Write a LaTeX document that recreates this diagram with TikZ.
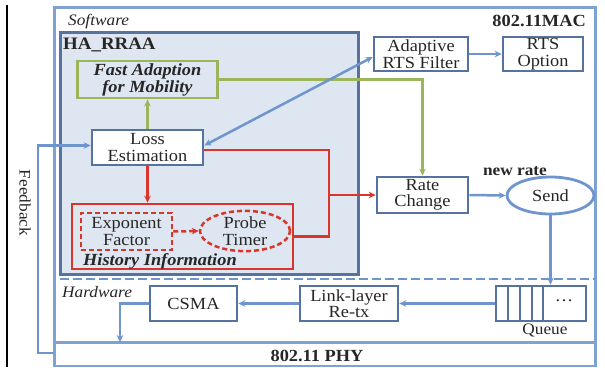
\documentclass[tikz,border=0pt]{standalone}
\usepackage{fontspec}
\setmainfont{Liberation Serif}[FakeStretch=1.08]
\usetikzlibrary{arrows.meta,shapes.geometric,calc}

\definecolor{frameblue}{HTML}{7FA2D3}
\definecolor{boxblue}{HTML}{56739F}
\definecolor{arrowblue}{HTML}{6F95CF}
\definecolor{hafill}{HTML}{DEE6F1}
\definecolor{redline}{HTML}{D9352B}
\definecolor{greenline}{HTML}{9BB65A}
\definecolor{inktext}{HTML}{262626}

\tikzset{
  txt/.style={font=\fontsize{17}{16.5}\selectfont, text=inktext, align=center, inner sep=0pt},
  bluebox/.style={txt, draw=boxblue, line width=2.6pt, fill=white, rectangle},
  greenbox/.style={txt, draw=greenline, line width=2.8pt, rectangle},
  redbox/.style={draw=redline, line width=2.5pt, rectangle, inner sep=0pt},
  reddash/.style={txt, draw=redline, line width=2.5pt, dash pattern=on 5pt off 3pt},
  tip/.style={-{Stealth[length=7pt,width=6.5pt]}},
  bluearrow/.style={tip, draw=arrowblue, line width=2.5pt},
  redarrow/.style={tip, draw=redline, line width=2.5pt},
  greenarrow/.style={tip, draw=greenline, line width=2.8pt},
  label/.style={font=\fontsize{17}{17}\selectfont, text=inktext, inner sep=0pt},
}

\begin{document}
\begin{tikzpicture}[x=1pt,y=-1pt]
\useasboundingbox (0,0) rectangle (605,367);

% left rule
\draw[black, line width=1.2pt] (7,5) -- (7,367);

% outer MAC/PHY frame
\draw[frameblue, line width=3pt] (54,367) -- (54,7) -- (595,7) -- (595,367);
\draw[frameblue, line width=3pt] (54,342) -- (595,342);
\draw[frameblue, line width=1.2pt] (54,366) -- (595,366);

% HA_RRAA region
\draw[draw=boxblue, fill=hafill, line width=3pt] (60,32) rectangle (358,274);

% software / hardware separator
\draw[arrowblue, line width=2.5pt, dash pattern=on 9pt off 4pt] (60,279) -- (595,279);

% text labels
\node[label, font=\fontsize{16}{16}\selectfont\itshape, anchor=west] (sw) at (68,22) {Software};
\node[label, font=\fontsize{17}{17}\selectfont\bfseries, anchor=east] (mac) at (586,21) {802.11MAC};
\node[label, font=\fontsize{17.5}{17}\selectfont\bfseries, anchor=west] (ha) at (63,45) {HA\_RRAA};
\node[label, font=\fontsize{16}{16}\selectfont\bfseries] (nr) at (515,171) {new rate};
\node[label, font=\fontsize{16}{16}\selectfont\itshape, anchor=west] (hw) at (62,292) {Hardware};
\node[label, font=\fontsize{17}{17}\selectfont\bfseries] (phy) at (317,356) {802.11 PHY};
\node[label, font=\fontsize{16}{16}\selectfont] (qlab) at (545,330) {Queue};
\node[label, font=\fontsize{16}{16}\selectfont, rotate=-90] (fbl) at (25,203) {Feedback};

% software blocks
\node[greenbox, font=\fontsize{17}{17}\selectfont\bfseries\itshape, minimum width=140pt, minimum height=37pt] (fast) at (147.5,79.5) {Fast Adaption\\for Mobility};
\node[bluebox, minimum width=111pt, minimum height=35pt] (loss) at (147.5,147.5) {Loss\\Estimation};
\node[bluebox, minimum width=94pt, minimum height=34pt] (arts) at (421,54) {Adaptive\\RTS Filter};
\node[bluebox, minimum width=80pt, minimum height=34pt] (rtso) at (543,54) {RTS\\Option};
\node[bluebox, minimum width=91pt, minimum height=36pt] (rate) at (422.5,195) {Rate\\Change};
\node[txt, ellipse, draw=arrowblue, line width=2.8pt, fill=white, minimum width=87pt, minimum height=37pt] (send) at (550.5,195.5) {Send};

% history information block
\node[redbox, minimum width=221pt, minimum height=65pt] (hist) at (182.5,236.5) {};
\node[label, font=\fontsize{17}{17}\selectfont\bfseries\itshape, anchor=west] (histl) at (83,261) {History Information};
\node[reddash, rectangle, minimum width=91pt, minimum height=37pt] (expo) at (126.5,231.5) {Exponent\\Factor};
\node[reddash, ellipse, minimum width=90pt, minimum height=36pt] (probe) at (245,231) {Probe\\Timer};

% hardware blocks
\node[bluebox, minimum width=87pt, minimum height=35pt] (csma) at (193.5,303.5) {CSMA};
\node[bluebox, minimum width=98pt, minimum height=35pt] (link) at (349,303.5) {Link-layer\\Re-tx};
\node[bluebox, minimum width=90pt, minimum height=35pt] (queue) at (541,303.5) {};
\foreach \cx in {508,520,532,543}
  \draw[boxblue, line width=2.6pt] (\cx,286) -- (\cx,321);
\node[txt] (qdots) at (564,301) {\dots};

% junction points
\coordinate (rj) at (329,195);
\coordinate (fbin) at (54,353);
\coordinate (phyin) at (120,342);

% connectors
\draw[greenarrow] (loss.north) -- (fast.south);
\draw[greenarrow] (fast.east) -| (rate.north);
\draw[bluearrow, {Stealth[length=7pt,width=6.5pt]}-{Stealth[length=7pt,width=6.5pt]}] ([yshift=2pt]loss.east) -- ([yshift=-3pt]arts.west);
\draw[bluearrow] (arts.east) -- (rtso.west);
\draw[redarrow] (loss.south) -- (loss.south |- hist.north);
\draw[redline, line width=2.5pt] ([yshift=-2.5pt]loss.east) -| (rj);
\draw[redline, line width=2.5pt] (hist.east) -| (rj);
\draw[redarrow] (rj) -- (rate.west);
\draw[redarrow, dash pattern=on 5pt off 3pt] (expo.east) -- (probe.west);
\draw[bluearrow] (rate.east) -- (send.west);
\draw[bluearrow] (send.south) -- (send.south |- queue.north);
\draw[bluearrow] (queue.west) -- (link.east);
\draw[bluearrow] (link.west) -- (csma.east);
\draw[bluearrow] (csma.west) -| (phyin);
\draw[bluearrow] (fbin) -- (38,353) |- ([yshift=2pt]loss.west);
\end{tikzpicture}
\end{document}
